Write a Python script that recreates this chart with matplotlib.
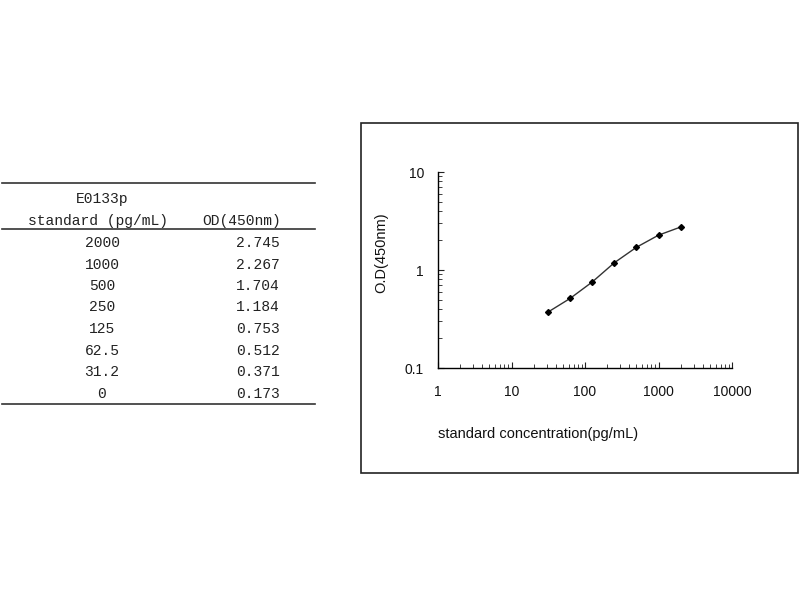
import numpy as np
from matplotlib import pyplot as plt
from matplotlib.lines import Line2D
from matplotlib.patches import Rectangle

# standard curve data
conc = [2000, 1000, 500, 250, 125, 62.5, 31.2, 0]
od = [2.745, 2.267, 1.704, 1.184, 0.753, 0.512, 0.371, 0.173]
conc_labels = ["2000", "1000", "500", "250", "125", "62.5", "31.2", "0"]
od_labels = ["2.745", "2.267", "1.704", "1.184", "0.753", "0.512", "0.371", "0.173"]

W, H = 800, 600
fig = plt.figure(figsize=(8, 6), dpi=100)

def fx(px):
    return px / W

def fy(py):
    return 1 - py / H

# table on the left
mono = "Liberation Mono"
for y in (183, 229, 404):
    fig.add_artist(Line2D([fx(2), fx(315)], [fy(y), fy(y)], color="#333333", lw=1.2))
fig.text(fx(102), fy(199), "E0133p", family=mono, fontsize=10.5, ha="center", va="center", color="#222222")
fig.text(fx(98), fy(221), "standard (pg/mL)", family=mono, fontsize=10.5, ha="center", va="center", color="#222222")
fig.text(fx(242), fy(221), "OD(450nm)", family=mono, fontsize=10.5, ha="center", va="center", color="#222222")
row_y = [243, 265, 286, 307, 329, 351, 372, 394]
for yy, c, o in zip(row_y, conc_labels, od_labels):
    fig.text(fx(102), fy(yy), c, family=mono, fontsize=10.5, ha="center", va="center", color="#222222")
    fig.text(fx(280), fy(yy), o, family=mono, fontsize=10.5, ha="right", va="center", color="#222222")

# frame around the chart
fig.add_artist(Rectangle((fx(361), fy(473)), fx(798) - fx(361), fy(123) - fy(473),
                         fill=False, edgecolor="#222222", lw=1.2))

# chart
ax = fig.add_axes([fx(438), fy(368), fx(732) - fx(438), fy(172) - fy(368)])
x = np.array(conc)
y = np.array(od)
m = x > 0
ax.plot(x[m], y[m], color="#333333", lw=1, marker="D", ms=3, mfc="black", mec="black")
ax.set_xscale("log")
ax.set_yscale("log")
ax.set_xlim(1, 10000)
ax.set_ylim(0.1, 10)
ax.set_xticks([1, 10, 100, 1000, 10000])
ax.set_xticklabels(["1", "10", "100", "1000", "10000"])
ax.set_yticks([0.1, 1, 10])
ax.set_yticklabels(["0.1", "1", "10"])
for s in ("top", "right"):
    ax.spines[s].set_visible(False)
for s in ("left", "bottom"):
    ax.spines[s].set_linewidth(1)
ax.tick_params(which="both", direction="in", color="#222222", labelsize=10,
               labelcolor="#111111", labelfontfamily="Liberation Sans")
ax.tick_params(axis="x", which="major", length=4, pad=12)
ax.tick_params(axis="y", which="major", length=4, pad=10)
ax.tick_params(which="minor", length=3)
ax.tick_params(axis="y", which="minor", labelleft=False)
ax.tick_params(axis="x", which="minor", labelbottom=False)
ax.set_xlabel("standard concentration(pg/mL)", family="Liberation Sans", fontsize=10.5, color="#111111")
ax.xaxis.set_label_coords(0.0, -0.3)
ax.xaxis.label.set_ha("left")
ax.set_ylabel("O.D(450nm)", family="Liberation Sans", fontsize=10.5, color="#111111")
ax.yaxis.set_label_coords(-0.17, 0.59)

fig.savefig("out.png", dpi=100)
